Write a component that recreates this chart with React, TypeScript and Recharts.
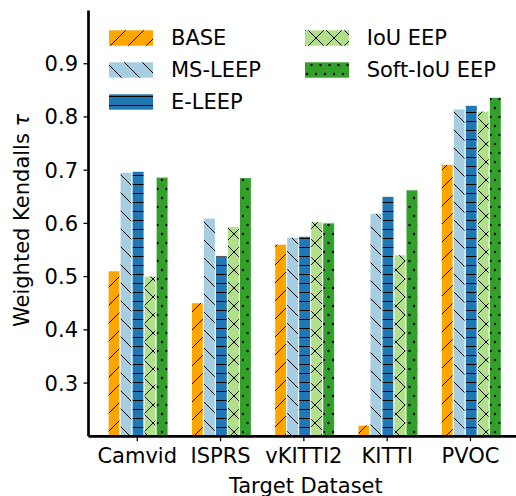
import React from 'react';
import { BarChart, Bar, XAxis, YAxis, Legend, Label } from 'recharts';

const categories = ['Camvid', 'ISPRS', 'vKITTI2', 'KITTI', 'PVOC'];
const base = [0.511, 0.451, 0.561, 0.221, 0.711];
const msLeep = [0.696, 0.61, 0.574, 0.619, 0.815];
const eLeep = [0.698, 0.539, 0.576, 0.651, 0.822];
const iouEep = [0.501, 0.594, 0.603, 0.541, 0.811];
const softIouEep = [0.687, 0.686, 0.601, 0.663, 0.837];
const yTicks = [0.3, 0.4, 0.5, 0.6, 0.7, 0.8, 0.9];

const seriesNames = ['BASE', 'MS-LEEP', 'E-LEEP', 'IoU EEP', 'Soft-IoU EEP'];
const seriesValues = [base, msLeep, eLeep, iouEep, softIouEep];
const patternIds = ['patBase', 'patMs', 'patE', 'patIou', 'patSoft'];

const data = categories.map((name, i) => {
  const row: Record<string, any> = { name };
  seriesNames.forEach((s, k) => {
    row[s] = seriesValues[k][i];
  });
  return row;
});

const FONT = 'DejaVu Sans, sans-serif';

const Patterns = () => (
  <defs>
    <pattern id="patBase" patternUnits="userSpaceOnUse" width={18} height={18}>
      <rect width={18} height={18} fill="#ffa500" />
      <path d="M0,18 L18,0 M-9,9 L9,-9 M9,27 L27,9" stroke="#000" strokeWidth={1} />
    </pattern>
    <pattern id="patMs" patternUnits="userSpaceOnUse" width={18} height={18}>
      <rect width={18} height={18} fill="#a6cee3" />
      <path d="M0,0 L18,18 M-9,9 L9,27 M9,-9 L27,9" stroke="#000" strokeWidth={1} />
    </pattern>
    <pattern id="patE" patternUnits="userSpaceOnUse" width={9} height={9}>
      <rect width={9} height={9} fill="#1f78b4" />
      <path d="M0,4.5 L9,4.5" stroke="#000" strokeWidth={1} />
    </pattern>
    <pattern id="patIou" patternUnits="userSpaceOnUse" width={18} height={18}>
      <rect width={18} height={18} fill="#b2df8a" />
      <path
        d="M0,18 L18,0 M-9,9 L9,-9 M9,27 L27,9 M0,0 L18,18 M-9,9 L9,27 M9,-9 L27,9"
        stroke="#000"
        strokeWidth={1}
      />
    </pattern>
    <pattern id="patSoft" patternUnits="userSpaceOnUse" width={9} height={18}>
      <rect width={9} height={18} fill="#33a02c" />
      <circle cx={0} cy={0} r={1.2} fill="#000" />
      <circle cx={9} cy={0} r={1.2} fill="#000" />
      <circle cx={0} cy={18} r={1.2} fill="#000" />
      <circle cx={9} cy={18} r={1.2} fill="#000" />
      <circle cx={4.5} cy={9} r={1.2} fill="#000" />
    </pattern>
  </defs>
);

const LegendBox = () => {
  const rows = [18, 50, 82];
  const cols = [
    { patch: 9, text: 71 },
    { patch: 205, text: 266.7 },
  ];
  return (
    <svg width={400} height={100} style={{ display: 'block', overflow: 'visible' }}>
      {seriesNames.map((s, k) => {
        const col = k < 3 ? 0 : 1;
        const row = k < 3 ? k : k - 3;
        const cy = rows[row];
        return (
          <g key={s}>
            <rect x={cols[col].patch} y={cy - 7.7} width={44} height={15.4} fill={`url(#${patternIds[k]})`} />
            <text
              x={cols[col].text}
              y={cy}
              dominantBaseline="central"
              fontFamily={FONT}
              fontSize={21}
              fill="#000"
            >
              {s}
            </text>
          </g>
        );
      })}
    </svg>
  );
};

const YLabelContent = (props: any) => {
  const vb = props.viewBox || { x: 0, y: 10.5, width: 88.5, height: 426 };
  const cx = 22;
  const cy = vb.y + vb.height / 2 - 3;
  return (
    <text
      x={cx}
      y={cy}
      transform={`rotate(-90, ${cx}, ${cy})`}
      textAnchor="middle"
      dominantBaseline="central"
      fontFamily={FONT}
      fontSize={21}
      fill="#000"
    >
      Weighted Kendalls <tspan fontStyle="italic">τ</tspan>
    </text>
  );
};

const XLabelContent = (props: any) => {
  const vb = props.viewBox || { x: 88.5, y: 436.3, width: 430.7, height: 59.7 };
  return (
    <text
      x={vb.x + vb.width / 2 + 2}
      y={vb.y + 56.7}
      textAnchor="middle"
      fontFamily={FONT}
      fontSize={21}
      fill="#000"
    >
      Target Dataset
    </text>
  );
};

const tickStyle = { fontFamily: FONT, fontSize: 21, fill: '#000' };

export default function App() {
  return (
    <div
      style={{
        position: 'fixed',
        left: 0,
        top: 0,
        width: 516,
        height: 496,
        overflow: 'hidden',
        background: '#fff',
      }}
    >
      <BarChart
        width={530}
        height={496}
        data={data}
        margin={{ top: 10.5, right: 10.8, left: 0, bottom: 0 }}
        barCategoryGap="15%"
        barGap={0}
      >
        <Patterns />
        <XAxis
          dataKey="name"
          height={59.7}
          interval={0}
          padding={{ left: 7.1, right: 7.1 }}
          tick={tickStyle}
          tickSize={5}
          tickMargin={7}
          tickLine={{ stroke: '#000', strokeWidth: 1.3 }}
          axisLine={{ stroke: '#000', strokeWidth: 2.7 }}
        >
          <Label content={XLabelContent} />
        </XAxis>
        <XAxis
          xAxisId="top"
          dataKey="name"
          orientation="top"
          height={0}
          tick={false}
          tickLine={false}
          axisLine={{ stroke: '#000', strokeWidth: 2.7 }}
        />
        <YAxis
          width={88.5}
          domain={[0.2, 1.0]}
          allowDataOverflow
          ticks={yTicks}
          interval={0}
          tickFormatter={(v: number) => v.toFixed(1)}
          tick={tickStyle}
          tickSize={5}
          tickMargin={5.5}
          tickLine={{ stroke: '#000', strokeWidth: 1.3 }}
          axisLine={{ stroke: '#000', strokeWidth: 2.7 }}
        >
          <Label content={YLabelContent} />
        </YAxis>
        <YAxis
          yAxisId="right"
          orientation="right"
          width={0}
          domain={[0.2, 1.0]}
          tick={false}
          tickLine={false}
          axisLine={{ stroke: '#000', strokeWidth: 2.7 }}
        />
        <Legend
          layout="horizontal"
          verticalAlign="middle"
          align="center"
          wrapperStyle={{ left: 100, top: 20, width: 400, height: 100 }}
          content={() => <LegendBox />}
        />
        {seriesNames.map((s, k) => (
          <Bar
            key={s}
            dataKey={s}
            fill={`url(#${patternIds[k]})`}
            stroke="#fff"
            strokeWidth={1}
            isAnimationActive={false}
          />
        ))}
      </BarChart>
    </div>
  );
}
